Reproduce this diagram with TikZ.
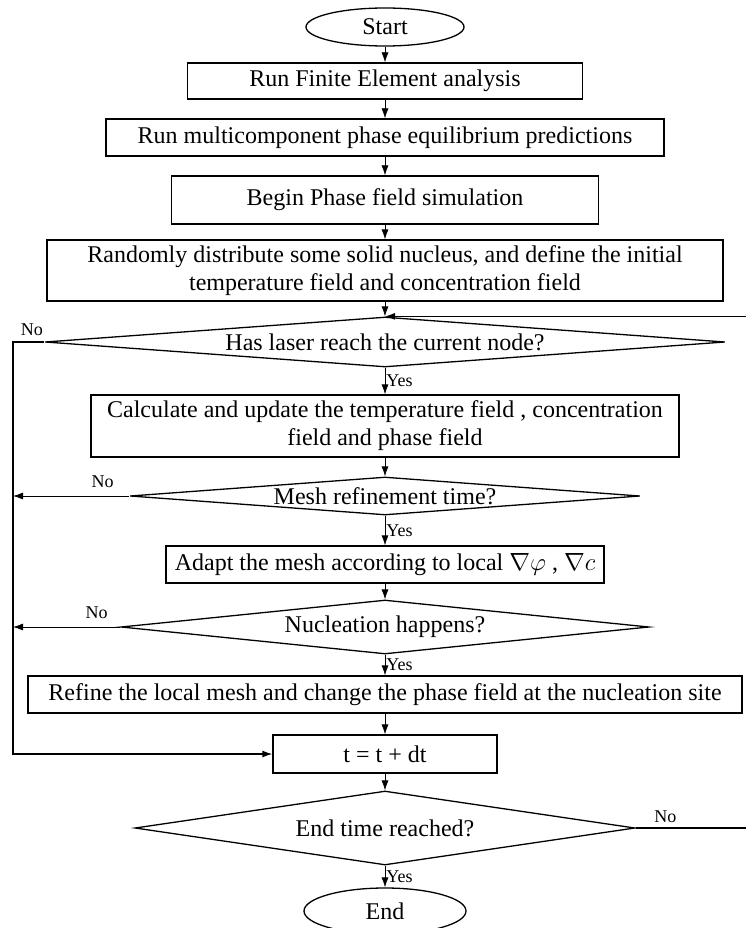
\documentclass[tikz,border=0pt]{standalone}
\usepackage{amsmath,amssymb}
\usepackage{fontspec}
\setmainfont{Liberation Serif}
\usepackage{tikz}
\usetikzlibrary{shapes.geometric,arrows.meta}

\begin{document}
\begin{tikzpicture}[x=1pt, y=-1pt, font=\fontsize{24}{28}\selectfont]
  \tikzstyle{tbox}=[ellipse, draw, line width=1.3pt, inner sep=0pt,
                    minimum width=158pt, minimum height=38pt]
  \tikzstyle{pbox}=[rectangle, draw, line width=1.3pt, inner sep=0pt,
                    align=center]
  \tikzstyle{qbox}=[diamond, draw, line width=1.3pt, inner sep=0pt]
  \tikzstyle{arr}=[-{Latex[length=10pt,width=7pt]}, line width=0.8pt]
  \tikzstyle{fline}=[line width=1.3pt]
  \tikzstyle{yn}=[font=\fontsize{18}{21}\selectfont, inner sep=2pt]

  \useasboundingbox (0,0) rectangle (746,928);

  \node[tbox] at (385,27) (start) {Start};
  \node[pbox, minimum width=395pt, minimum height=36pt] at (385,81) (fea)
       {Run Finite Element analysis};
  \node[pbox, minimum width=558pt, minimum height=37pt] at (385,137.5) (equil)
       {Run multicomponent phase equilibrium predictions};
  \node[pbox, minimum width=427pt, minimum height=48pt] at (385,200) (beginpf)
       {Begin Phase field simulation};
  \node[pbox, minimum width=676pt, minimum height=61pt] at (385,270.5) (init)
       {Randomly distribute some solid nucleus, and define the initial\\
        temperature field and concentration field};
  \node[qbox, minimum width=680pt, minimum height=50pt] at (385,342) (laser)
       {\makebox[0pt]{Has laser reach the current node?}};
  \node[pbox, minimum width=588pt, minimum height=62pt] at (385,426) (update)
       {Calculate and update the temperature field , concentration\\
        field and phase field};
  \node[qbox, minimum width=510pt, minimum height=38pt] at (385,496) (meshq)
       {\makebox[0pt]{Mesh refinement time?}};
  \node[pbox, minimum width=438pt, minimum height=37pt] at (385,564.5) (adapt)
       {Adapt the mesh according to local $\nabla\varphi$ , $\nabla c$};
  \node[qbox, minimum width=528pt, minimum height=54pt] at (385,627) (nucq)
       {\makebox[0pt]{Nucleation happens?}};
  \node[pbox, minimum width=714pt, minimum height=37pt] at (385,694.5) (refine)
       {Refine the local mesh and change the phase field at the nucleation site};
  \node[pbox, minimum width=224pt, minimum height=38pt] at (385,754) (tstep)
       {t = t + dt};
  \node[qbox, minimum width=500pt, minimum height=74pt] at (385,828) (endq)
       {\makebox[0pt]{End time reached?}};
  \node[tbox, minimum width=162pt, minimum height=46pt] at (385,911) (stop) {End};

  \coordinate (lt) at (13,342);
  \coordinate (lb) at (13,754);
  \coordinate (re) at (746,828);
  \coordinate (rt) at (laser.north -| re);

  \draw[arr] (start)   -- (fea);
  \draw[arr] (fea)     -- (equil);
  \draw[arr] (equil)   -- (beginpf);
  \draw[arr] (beginpf) -- (init);
  \draw[arr] (init)    -- (laser);
  \draw[arr] (laser)   -- node[yn, right, inner sep=1pt]{Yes} (update);
  \draw[arr] (update)  -- (meshq);
  \draw[arr] (meshq)   -- node[yn, right, inner sep=1pt]{Yes} (adapt);
  \draw[arr] (adapt)   -- (nucq);
  \draw[arr] (nucq)    -- node[yn, right, inner sep=1pt]{Yes} (refine);
  \draw[arr] (refine)  -- (tstep);
  \draw[arr] (tstep)   -- (endq);
  \draw[arr] (endq)    -- node[yn, right, inner sep=1pt]{Yes} (stop);

  \draw[fline, -{Latex[length=10pt,width=7pt]}] (laser.west)
        -- node[yn, above=4pt, pos=0.4]{No} (lt) -- (lb) -- (tstep.west);
  \draw[arr] (meshq.west) -- node[yn, above=6pt, pos=0.23]{No} (meshq.west -| lt);
  \draw[arr] (nucq.west)  -- node[yn, above=6pt, pos=0.22]{No} (nucq.west -| lt);

  \draw[fline] (endq.east) -- node[yn, above=3pt, pos=0.27]{No} (re);
  \draw[fline, -{Latex[length=10pt,width=7pt]}] (rt) -- (laser.north);
\end{tikzpicture}
\end{document}
